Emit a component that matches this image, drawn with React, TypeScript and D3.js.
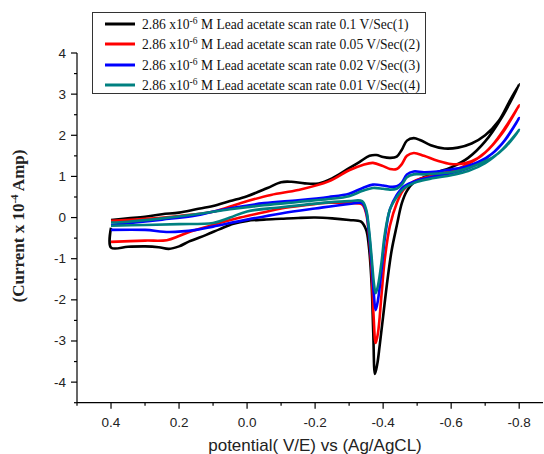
import React, { useLayoutEffect, useRef, useState } from "react";
import * as d3 from "d3";

// ---- data (potential V, current x1e-4 A) ----
const seriesLabels = ["0.1 V/Sec(1)", "0.05 V/Sec((2)", "0.02 V/Sec((3)", "0.01 V/Sec((4)"];
const seriesColors = ["#000000", "#ff0000", "#0000ff", "#008080"];

const xTicks = [0.4, 0.2, 0.0, -0.2, -0.4, -0.6, -0.8];
const yTicks = [-4, -3, -2, -1, 0, 1, 2, 3, 4];

const blackCathodic: [number, number][] = [
  [0.4, -0.25], [0.4, -0.73], [0.35, -0.71], [0.3, -0.7], [0.26, -0.72], [0.23, -0.76], [0.2, -0.7], [0.17, -0.58],
  [0.12, -0.42], [0.08, -0.28], [0.04, -0.15], [0.0, -0.08], [-0.05, -0.05], [-0.1, -0.03], [-0.15, -0.01],
  [-0.2, 0.0], [-0.25, -0.02], [-0.3, -0.06], [-0.335, -0.1], [-0.35, -0.3], [-0.358, -0.7], [-0.366, -1.6],
  [-0.371, -2.8], [-0.376, -3.8], [-0.383, -3.55], [-0.39, -3.1], [-0.4, -2.4], [-0.413, -1.5], [-0.425, -0.8],
  [-0.44, -0.2], [-0.455, 0.35], [-0.47, 0.65], [-0.49, 0.85], [-0.52, 0.98], [-0.55, 1.08], [-0.6, 1.22],
  [-0.65, 1.45], [-0.7, 1.85], [-0.75, 2.45], [-0.8, 3.24],
];
const blackAnodic: [number, number][] = [
  [-0.8, 3.24], [-0.77, 2.8], [-0.74, 2.35], [-0.7, 2.0], [-0.66, 1.8], [-0.62, 1.7], [-0.58, 1.68],
  [-0.54, 1.76], [-0.51, 1.88], [-0.49, 1.93], [-0.47, 1.87], [-0.455, 1.65], [-0.44, 1.48], [-0.42, 1.45],
  [-0.4, 1.47], [-0.38, 1.52], [-0.36, 1.5], [-0.33, 1.35], [-0.3, 1.2], [-0.25, 0.95], [-0.21, 0.83],
  [-0.17, 0.83], [-0.13, 0.87], [-0.1, 0.86], [-0.06, 0.72], [0.0, 0.52], [0.05, 0.4], [0.1, 0.28],
  [0.15, 0.2], [0.2, 0.12], [0.25, 0.08], [0.3, 0.02], [0.35, -0.02], [0.4, -0.06],
];

const redCathodic: [number, number][] = [
  [0.4, -0.59], [0.3, -0.56], [0.236, -0.55], [0.2, -0.45], [0.17, -0.35], [0.1, -0.18], [0.02, 0.0],
  [-0.05, 0.13], [-0.1, 0.22], [-0.17, 0.3], [-0.24, 0.36], [-0.3, 0.35], [-0.338, 0.32], [-0.35, 0.1],
  [-0.358, -0.4], [-0.366, -1.3], [-0.372, -2.4], [-0.378, -3.05], [-0.385, -2.8], [-0.395, -1.9],
  [-0.405, -1.0], [-0.42, -0.2], [-0.44, 0.35], [-0.46, 0.68], [-0.49, 0.88], [-0.55, 1.03], [-0.6, 1.13],
  [-0.65, 1.3], [-0.7, 1.58], [-0.75, 2.05], [-0.8, 2.73],
];
const redAnodic: [number, number][] = [
  [-0.8, 2.73], [-0.76, 2.2], [-0.72, 1.75], [-0.68, 1.45], [-0.64, 1.32], [-0.6, 1.3], [-0.56, 1.38],
  [-0.52, 1.5], [-0.49, 1.57], [-0.47, 1.5], [-0.455, 1.3], [-0.44, 1.18], [-0.42, 1.18], [-0.4, 1.25],
  [-0.37, 1.33], [-0.34, 1.28], [-0.3, 1.15], [-0.24, 0.88], [-0.15, 0.67], [-0.07, 0.55], [0.02, 0.35],
  [0.1, 0.14], [0.2, 0.04], [0.3, -0.03], [0.4, -0.08],
];

const blueCathodic: [number, number][] = [
  [0.4, -0.3], [0.3, -0.3], [0.23, -0.35], [0.15, -0.3], [0.1, -0.22], [0.0, -0.05], [-0.1, 0.1],
  [-0.2, 0.22], [-0.3, 0.33], [-0.338, 0.35], [-0.35, 0.15], [-0.358, -0.35], [-0.366, -1.1],
  [-0.373, -1.9], [-0.378, -2.25], [-0.385, -2.0], [-0.395, -1.3], [-0.405, -0.5], [-0.42, 0.2],
  [-0.44, 0.55], [-0.46, 0.75], [-0.5, 0.9], [-0.55, 1.0], [-0.6, 1.08], [-0.65, 1.2], [-0.7, 1.42],
  [-0.75, 1.8], [-0.8, 2.42],
];
const blueAnodic: [number, number][] = [
  [-0.8, 2.42], [-0.76, 1.9], [-0.72, 1.55], [-0.68, 1.35], [-0.64, 1.23], [-0.6, 1.17], [-0.56, 1.12],
  [-0.52, 1.1], [-0.49, 1.12], [-0.47, 1.05], [-0.455, 0.85], [-0.44, 0.76], [-0.42, 0.75], [-0.4, 0.78],
  [-0.37, 0.8], [-0.34, 0.72], [-0.3, 0.58], [-0.24, 0.5], [-0.15, 0.42], [-0.05, 0.35], [0.08, 0.18],
  [0.15, 0.05], [0.25, -0.05], [0.35, -0.14], [0.4, -0.18],
];

const tealCathodic: [number, number][] = [
  [0.4, -0.2], [0.3, -0.18], [0.2, -0.16], [0.1, -0.13], [0.05, 0.0], [0.0, 0.15], [-0.1, 0.25],
  [-0.24, 0.37], [-0.3, 0.4], [-0.338, 0.4], [-0.35, 0.2], [-0.358, -0.25], [-0.366, -0.95],
  [-0.373, -1.6], [-0.378, -1.84], [-0.385, -1.65], [-0.395, -1.1], [-0.405, -0.4], [-0.42, 0.2],
  [-0.44, 0.5], [-0.46, 0.7], [-0.5, 0.87], [-0.55, 0.96], [-0.6, 1.03], [-0.65, 1.13], [-0.7, 1.32],
  [-0.75, 1.65], [-0.8, 2.13],
];
const tealAnodic: [number, number][] = [
  [-0.8, 2.13], [-0.76, 1.72], [-0.72, 1.45], [-0.68, 1.3], [-0.64, 1.18], [-0.6, 1.1], [-0.56, 1.07],
  [-0.52, 1.05], [-0.49, 1.05], [-0.47, 0.98], [-0.455, 0.8], [-0.44, 0.7], [-0.42, 0.68], [-0.4, 0.7],
  [-0.37, 0.72], [-0.34, 0.65], [-0.3, 0.52], [-0.24, 0.45], [-0.15, 0.38], [-0.05, 0.3], [0.05, 0.2],
  [0.15, 0.08], [0.25, -0.02], [0.35, -0.1], [0.4, -0.12],
];

const seriesData = [
  [blackCathodic, blackAnodic],
  [redCathodic, redAnodic],
  [blueCathodic, blueAnodic],
  [tealCathodic, tealAnodic],
];

export default function App() {
  const W = 544, H = 454;
  const x = d3.scaleLinear().domain([0.5, -0.87]).range([77, 543]);
  const y = d3.scaleLinear().domain([-4.5, 4]).range([402.7, 53]);
  const line = d3
    .line<[number, number]>()
    .x((d) => x(d[0]))
    .y((d) => y(d[1]))
    .curve(d3.curveCatmullRom.alpha(0.5));

  const xMinor = d3.range(0.5, -0.81, -0.2).map((v) => +v.toFixed(2));
  const yMinor = d3.range(-4.5, 4.01, 1).map((v) => +v.toFixed(2));
  const x0 = x.range()[0];
  const yb = y.range()[0];

  const legendRows = [24, 44, 65, 85];
  const tickFont = "Arial, Liberation Sans, sans-serif";
  const serif = "Liberation Serif, Times New Roman, serif";

  const legendTextRef = useRef<SVGGElement>(null);
  const [legendRight, setLegendRight] = useState(425);
  useLayoutEffect(() => {
    const g = legendTextRef.current;
    if (g) {
      const b = g.getBBox();
      setLegendRight(Math.round(b.x + b.width + 5) + 0.5);
    }
  }, []);

  return (
    <svg width={W} height={H} style={{ position: "absolute", left: 0, top: 0, background: "#fff" }}>
      <rect x={0} y={0} width={W} height={H} fill="#fff" />
      {/* curves */}
      {seriesData.map(([c, a], i) => (
        <path
          key={i}
          d={line([...c, ...a.slice(1)]) || ""}
          fill="none"
          stroke={seriesColors[i]}
          strokeWidth={2.6}
          strokeLinejoin="round"
        />
      ))}
      {/* axes */}
      <line x1={x0} x2={x0} y1={y(4)} y2={yb} stroke="#000" strokeWidth={1.2} />
      <line x1={x0} x2={543} y1={yb} y2={yb} stroke="#000" strokeWidth={1.2} />
      {yTicks.map((t) => (
        <g key={"yt" + t}>
          <line x1={x0 - 6} x2={x0} y1={y(t)} y2={y(t)} stroke="#000" strokeWidth={1.2} />
          <text x={x0 - 11} y={y(t) + 4.5} textAnchor="end" fontFamily={tickFont} fontSize={13.5} fill="#222">
            {t}
          </text>
        </g>
      ))}
      {yMinor.map((t) => (
        <line key={"ym" + t} x1={x0 - 3} x2={x0} y1={y(t)} y2={y(t)} stroke="#000" strokeWidth={1.2} />
      ))}
      {xTicks.map((t) => (
        <g key={"xt" + t}>
          <line x1={x(t)} x2={x(t)} y1={yb} y2={yb + 6} stroke="#000" strokeWidth={1.2} />
          <text x={x(t)} y={yb + 24} textAnchor="middle" fontFamily={tickFont} fontSize={13.5} fill="#222">
            {t.toFixed(1)}
          </text>
        </g>
      ))}
      {xMinor.map((t) => (
        <line key={"xm" + t} x1={x(t)} x2={x(t)} y1={yb} y2={yb + 3} stroke="#000" strokeWidth={1.2} />
      ))}
      {/* axis titles */}
      <text x={315} y={451} textAnchor="middle" fontFamily={tickFont} fontSize={17} fill="#222">
        potential( V/E) vs (Ag/AgCL)
      </text>
      <text
        transform="translate(24,226) rotate(-90)"
        textAnchor="middle"
        fontFamily={serif}
        fontWeight="bold"
        fontSize={17}
        fill="#222"
      >
        (Current x 10<tspan dy={-6} fontSize={11}>-4</tspan>
        <tspan dy={6}> Amp)</tspan>
      </text>
      {/* legend */}
      <rect x={92.5} y={12.5} width={legendRight - 92.5} height={81} fill="#fff" stroke="#333" strokeWidth={1} />
      {seriesLabels.map((lab, i) => (
        <line key={"ll" + i} x1={105} x2={135} y1={legendRows[i]} y2={legendRows[i]} stroke={seriesColors[i]} strokeWidth={3} />
      ))}
      <g ref={legendTextRef}>
        {seriesLabels.map((lab, i) => (
          <text key={"lt" + i} x={142} y={legendRows[i] + 4.5} fontFamily={serif} fontSize={13.6} fill="#111">
            2.86 x10<tspan dy={-5} fontSize={9.5}>-6</tspan>
            <tspan dy={5}> M Lead acetate scan rate {lab}</tspan>
          </text>
        ))}
      </g>
    </svg>
  );
}
